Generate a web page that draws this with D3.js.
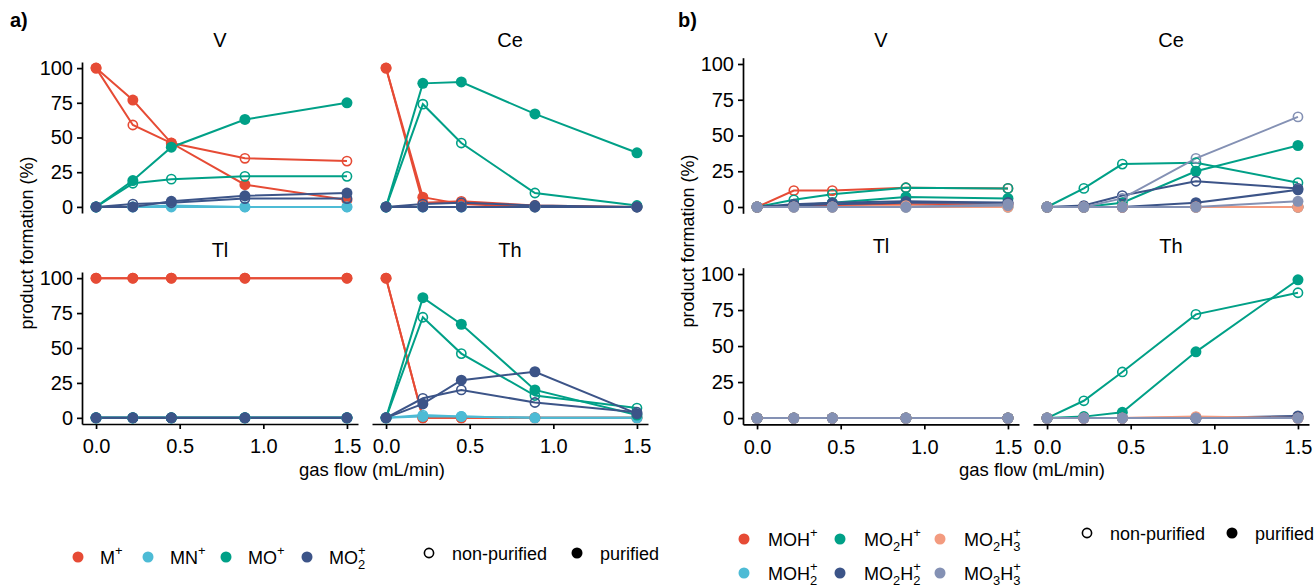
<!DOCTYPE html>
<html><head><meta charset="utf-8">
<script src="https://cdn.jsdelivr.net/npm/d3@7"></script>
<style>body{margin:0;background:#fff} text{font-family:"Liberation Sans",Arial,sans-serif;fill:#000}</style>
</head><body><svg id="c" width="1316" height="587"></svg>
<script>
// ---------- data ----------
const flow = [0, 0.22, 0.45, 0.89, 1.5];
const elements = ["V", "Ce", "Tl", "Th"];
const yTicks = [0, 25, 50, 75, 100];
const xTicks = [0, 0.5, 1.0, 1.5];
const treatments = ["non-purified", "purified"];

const speciesA = ["M+", "MN+", "MO+", "MO2+"];
const colorsA = ["#E64B35", "#4DBBD5", "#00A087", "#3C5488"];
const speciesB = ["MOH+", "MOH2+", "MO2H+", "MO2H2+", "MO2H3+", "MO3H3+"];
const colorsB = ["#E64B35", "#4DBBD5", "#00A087", "#3C5488", "#F39B7F", "#8491B4"];

// panel a) rows follow speciesA
const a_V_nonpur  = [[100,59,46,35,33],[0,0,1,0,0],[0,17,20,22,22],[0,2,3,6,6]];
const a_V_pur     = [[100,77,46,16,5],[0,0,0,0,0],[0,19,43,63,75],[0,0,4,8,10]];
const a_Ce_nonpur = [[100,3,4,1,0],[0,0,0,0,0],[0,74,46,10,1],[0,2,3,1,0]];
const a_Ce_pur    = [[100,7,2,0,0],[0,0,0,0,0],[0,89,90,67,39],[0,0,0,0,0]];
const a_Tl_nonpur = [[100,100,100,100,100],[0,0,0,0,0],[0,0,0,0,0],[0,0,0,0,0]];
const a_Tl_pur    = [[100,100,100,100,100],[0,0,0,0,0],[0,0,0,0,0],[0,0,0,0,0]];
const a_Th_nonpur = [[100,0,0,0,0],[0,2,1,0,0],[0,72,46,16,7],[0,14,20,11,4]];
const a_Th_pur    = [[100,0,0,0,0],[0,1,1,0,0],[0,86,67,20,2],[0,10,27,33,3]];

// panel b) rows follow speciesB
const b_V_nonpur  = [[0,11.5,11.5,13.5,13],[0,0,0,0,0],[0,5,9,13.5,13],[0,2,3,4,3],[0,0,0,1,0],[0,0,0,0,1]];
const b_V_pur     = [[0,1,1,2,2],[0,0,0,0,0],[0,1,3,7,6],[0,1,2,3,3],[0,0,0,0,0],[0,0,0,0,2]];
const b_Ce_nonpur = [[0,0,0,0,0],[0,0,0,0,0],[0,13,30,31,17],[0,1,8,18,13],[0,0,0,0,0],[0,0,6,34,63]];
const b_Ce_pur    = [[0,0,0,0,0],[0,0,0,0,0],[0,0,3,25,43],[0,0,0,3,12],[0,0,0,0,0],[0,0,0,0,4]];
const b_Tl_nonpur = [[0,0,0,0,0],[0,0,0,0,0],[0,0,0,0,0],[0,0,0,0,0],[0,0,0,0,0],[0,0,0,0,0]];
const b_Tl_pur    = [[0,0,0,0,0],[0,0,0,0,0],[0,0,0,0,0],[0,0,0,0,0],[0,0,0,0,0],[0,0,0,0,0]];
const b_Th_nonpur = [[0,0,0,0,0],[0,0,0,0,0],[0,12,32,72,87],[0,0,0,0,1],[0,0,0,1,0],[0,0,0,0,0]];
const b_Th_pur    = [[0,0,0,0,0],[0,0,0,0,0],[0,1,4,46,96],[0,0,0,0,1.5],[0,0,0,0.5,0],[0,0,0,0,0]];

// legend label markup: [text, mode] mode: n normal, b sub, p sup, s stacked sup
const labelsA = [
  [["M","n"],["+","p"]],
  [["MN","n"],["+","p"]],
  [["MO","n"],["+","p"]],
  [["MO","n"],["2","b"],["+","s"]]
];
const labelsB = [
  [["MOH","n"],["+","p"]],
  [["MOH","n"],["2","b"],["+","s"]],
  [["MO","n"],["2","b"],["H","n"],["+","p"]],
  [["MO","n"],["2","b"],["H","n"],["2","b"],["+","s"]],
  [["MO","n"],["2","b"],["H","n"],["3","b"],["+","s"]],
  [["MO","n"],["3","b"],["H","n"],["3","b"],["+","s"]]
];

// ---------- drawing ----------
const svg = d3.select("#c");
const FS = 20;

const figA = {
  tag: "a)", tagX: 10, species: speciesA, colors: colorsA,
  colX: [82, 372], rowY: [62, 272], rowH: [151, 152], W: 276,
  data: {V:[a_V_nonpur,a_V_pur], Ce:[a_Ce_nonpur,a_Ce_pur], Tl:[a_Tl_nonpur,a_Tl_pur], Th:[a_Th_nonpur,a_Th_pur]},
  ylabX: 33, xlabX: 372
};
const figB = {
  tag: "b)", tagX: 678, species: speciesB, colors: colorsB,
  colX: [743, 1033], rowY: [57.7, 267.7], rowH: [155.6, 156.7], W: 276,
  data: {V:[b_V_nonpur,b_V_pur], Ce:[b_Ce_nonpur,b_Ce_pur], Tl:[b_Tl_nonpur,b_Tl_pur], Th:[b_Th_nonpur,b_Th_pur]},
  ylabX: 694, xlabX: 1032
};

function drawFig(f) {
  svg.append("text").attr("x", f.tagX).attr("y", 27).attr("font-size", 20)
     .attr("font-weight", "bold").text(f.tag);
  elements.forEach((el, ei) => {
    const col = ei % 2, row = Math.floor(ei / 2);
    const x0 = f.colX[col], y0 = f.rowY[row], h = f.rowH[row];
    const x = d3.scaleLinear().domain([-0.084, 1.566]).range([x0, x0 + f.W]);
    const y = d3.scaleLinear().domain([-4.4, 104.4]).range([y0 + h, y0]);
    const g = svg.append("g");
    // strip title
    g.append("text").attr("x", x0 + f.W / 2).attr("y", y0 - (row === 0 && f.tag === "b)" ? 10.5 : 15))
      .attr("text-anchor", "middle").attr("font-size", 20).text(el);
    if (col === 0) {
      const ax = g.append("g").attr("transform", `translate(${x0},0)`)
        .call(d3.axisLeft(y).tickValues(yTicks).tickSize(5).tickSizeOuter(0).tickPadding(4));
      ax.selectAll("text").attr("font-size", FS).attr("fill", "#000");
      ax.selectAll("path,line").attr("stroke", "#000").attr("stroke-width", 1.7);
    }
    if (row === 1) {
      const ax = g.append("g").attr("transform", `translate(0,${y0 + h})`)
        .call(d3.axisBottom(x).tickValues(xTicks).tickFormat(d3.format(".1f")).tickSize(5).tickSizeOuter(0).tickPadding(10));
      ax.selectAll("text").attr("font-size", FS).attr("fill", "#000");
      ax.selectAll("path,line").attr("stroke", "#000").attr("stroke-width", 1.7);
    }
    const sets = f.data[el];
    const line = d3.line().x((d, i) => x(flow[i])).y(d => y(d));
    f.species.forEach((sp, si) => {
      sets.forEach((set, ti) => {
        g.append("path").datum(set[si]).attr("d", line).attr("fill", "none")
          .attr("stroke", f.colors[si]).attr("stroke-width", 2);
      });
    });
    f.species.forEach((sp, si) => {
      sets.forEach((set, ti) => {
        g.selectAll(null).data(set[si]).enter().append("circle")
          .attr("cx", (d, i) => x(flow[i])).attr("cy", d => y(d))
          .attr("r", ti === 1 ? 5.5 : 4.6)
          .attr("fill", ti === 1 ? f.colors[si] : "none")
          .attr("stroke", ti === 1 ? "none" : f.colors[si])
          .attr("stroke-width", 1.6);
      });
    });
  });
  // axis titles
  const yc = (f.rowY[0] + f.rowY[1] + f.rowH[1]) / 2;
  svg.append("text").attr("transform", `translate(${f.ylabX},${yc}) rotate(-90)`)
    .attr("text-anchor", "middle").attr("font-size", 18).text("product formation (%)");
  svg.append("text").attr("x", f.xlabX).attr("y", 476).attr("text-anchor", "middle")
    .attr("font-size", 18.5).text("gas flow (mL/min)");
}
drawFig(figA);
drawFig(figB);

function rich(x, y, parts, fs) {
  const t = svg.append("text").attr("x", x).attr("y", y).attr("font-size", fs);
  let off = 0, prev = null;
  parts.forEach(([s, m]) => {
    const ts = t.append("tspan").text(s);
    let target = 0;
    if (m === "b") { target = 0.32 * fs; ts.attr("font-size", fs * 0.72); }
    if (m === "p" || m === "s") { target = -0.45 * fs; ts.attr("font-size", fs * 0.72); }
    ts.attr("dy", target - off);
    if (m === "s" && prev) ts.attr("dx", -prev.node().getComputedTextLength());
    off = target; prev = ts;
  });
}

// legend a
const legAx = [78, 148, 226, 307];
speciesA.forEach((sp, i) => {
  svg.append("circle").attr("cx", legAx[i]).attr("cy", 557).attr("r", 5.5).attr("fill", colorsA[i]);
  rich(legAx[i] + 22, 563.5, labelsA[i], 18);
});
// legend b
const legBx = [744, 744, 840, 840, 940, 940];
const legBy = [539, 573, 539, 573, 539, 573];
speciesB.forEach((sp, i) => {
  svg.append("circle").attr("cx", legBx[i]).attr("cy", legBy[i]).attr("r", 5.5).attr("fill", colorsB[i]);
  rich(legBx[i] + 24, legBy[i] + 6.5, labelsB[i], 18);
});
// shape legends
function shapeLeg(xo, xf, yy) {
  svg.append("circle").attr("cx", xo).attr("cy", yy).attr("r", 4.6).attr("fill", "none").attr("stroke", "#000").attr("stroke-width", 1.6);
  svg.append("text").attr("x", xo + 23).attr("y", yy + 6.5).attr("font-size", 18).text(treatments[0]);
  svg.append("circle").attr("cx", xf).attr("cy", yy).attr("r", 5.5).attr("fill", "#000");
  svg.append("text").attr("x", xf + 23).attr("y", yy + 6.5).attr("font-size", 18).text(treatments[1]);
}
shapeLeg(429, 577, 553);
shapeLeg(1087, 1232, 533);
</script></body></html>
